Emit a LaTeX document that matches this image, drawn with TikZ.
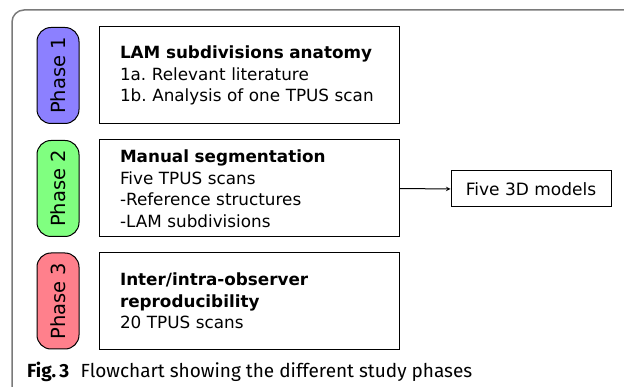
\documentclass[tikz,border=0pt]{standalone}
\usepackage{fontspec}
\setmainfont{DejaVu Sans}
\newfontfamily\capfont{Fira Sans}
\definecolor{phaseone}{HTML}{8C80FF}
\definecolor{phasetwo}{HTML}{80FF80}
\definecolor{phasethree}{HTML}{FF808C}
\definecolor{framegray}{HTML}{7A7A7A}
\frenchspacing

\begin{document}
\begin{tikzpicture}[x=1pt,y=1pt]
\tikzstyle{phase}=[draw=black, line width=1pt, rounded corners=14pt, rotate=90,
  minimum width=96pt, minimum height=42pt, inner sep=0pt, font=\fontsize{19.5}{22}\selectfont]
\tikzstyle{stepbox}=[draw=black, line width=1pt, minimum width=300pt, minimum height=97pt,
  text width=258pt, align=left, inner xsep=21pt, inner ysep=0pt, font=\fontsize{16.8}{21.5}\selectfont]
\useasboundingbox (0,0) rectangle (624,-387);
\draw [framegray, line width=1.5pt, rounded corners=12pt] (12,-390) -- (12,-10) -- (630,-10);
\node [phase, fill=phaseone] (p1) at (58,-75.5) {Phase 1};
\node [phase, fill=phasetwo] (p2) at (58,-188.5) {Phase 2};
\node [phase, fill=phasethree] (p3) at (58,-301) {Phase 3};
\node [stepbox] (s1) at (249,-75.5) {\textbf{LAM subdivisions anatomy}\\1a. Relevant literature\\1b. Analysis of one TPUS scan};
\node [stepbox] (s2) at (249,-188.5) {\textbf{Manual segmentation}\\Five TPUS scans\\-Reference structures\\-LAM subdivisions};
\node [stepbox] (s3) at (249,-301) {\textbf{Inter/intra-observer}\\\textbf{reproducibility}\\20 TPUS scans};
\node [draw=black, line width=1pt, minimum width=160pt, minimum height=36pt,
  font=\fontsize{17}{20}\selectfont] (m) at (531,-189) {Five 3D models};
\draw [-stealth, line width=1pt] (s2.east) -- (m.west);
\node [anchor=west, inner sep=0pt, font=\capfont\fontsize{19}{22}\selectfont] (cap) at (27,-372)
  {\textbf{Fig.\,3}\hspace{0.6em}Flowchart showing the different study phases};
\end{tikzpicture}
\end{document}
